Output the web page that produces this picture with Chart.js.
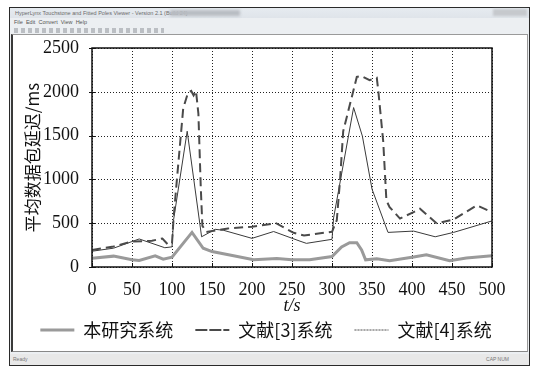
<!DOCTYPE html>
<html>
<head>
<meta charset="utf-8">
<script src="https://cdn.jsdelivr.net/npm/chart.js@4"></script>
<style>
  body { margin: 0; background: #fff; width: 535px; height: 367px; overflow: hidden; font-family: "Liberation Sans", sans-serif; }
  .win { position: absolute; left: 9px; top: 7px; width: 519px; height: 357px; border: 1px solid #2a2a2a; background: #eceff2; }
  .title { position: absolute; left: 0; top: 0; right: 0; height: 10px; background: linear-gradient(#e6ebf0, #dfe4ea); font-size: 5.5px; color: #6a6a6a; line-height: 10px; padding-left: 5px; }
  .title .blur { position: absolute; left: 160px; top: 2px; width: 70px; height: 6px; background: #b8bcc2; filter: blur(1.5px); }
  .title .btn { position: absolute; right: 2px; top: 1px; width: 34px; height: 7px; background: #c6c9cd; filter: blur(1px); }
  .menu { position: absolute; left: 0; top: 10px; right: 0; height: 9px; font-size: 5.5px; color: #555; line-height: 9px; padding-left: 4px; }
  .tool { position: absolute; left: 4px; top: 20px; width: 150px; height: 5px; background: repeating-linear-gradient(90deg, #9a9ea4 0 4px, transparent 4px 7px); opacity: 0.6; }
  .client { position: absolute; left: 1px; top: 26px; width: 514px; height: 316px; background: #fff; border-left: 2px solid #3a3a3a; border-top: 1px solid #9a9a9a; border-right: 1px solid #9a9a9a; border-bottom: 1px solid #888; }
  .status { position: absolute; left: 0; right: 0; bottom: 0; height: 11px; background: #e8e8e8; font-size: 5px; color: #777; line-height: 11px; }
  .status .l { position: absolute; left: 3px; }
  .status .r { position: absolute; right: 20px; }
  canvas { position: absolute; left: 0; top: 0; }
</style>
</head>
<body>
<div class="win">
  <div class="title">HyperLynx Touchstone and Fitted Poles Viewer - Version 2.1 (Build 24)<div class="blur"></div><div class="btn"></div></div>
  <div class="menu">File&nbsp;&nbsp;Edit&nbsp;&nbsp;Convert&nbsp;&nbsp;View&nbsp;&nbsp;Help</div>
  <div class="tool"></div>
  <div class="client"></div>
  <div class="status"><span class="l">Ready</span><span class="r">CAP NUM</span></div>
</div>
<canvas id="chart" width="535" height="367"></canvas>
<script>
// 本研究系统
const tOurs = [0, 27, 50, 59, 79, 89, 100, 125, 139, 150, 177, 202, 231, 250, 272, 300, 312, 322, 331, 337, 342, 356, 372, 402, 418, 447, 468, 500];
const ours = [100, 124, 82, 75, 128, 90, 113, 395, 214, 176, 128, 82, 97, 82, 82, 120, 230, 278, 278, 195, 82, 94, 71, 113, 139, 71, 102, 128];

// 文献[3]系统
const tRef3 = [0, 27, 50, 75, 88, 95, 100, 102, 106, 114, 120, 124, 127, 130, 133, 136, 138, 143, 170, 200, 230, 252, 265, 298, 300, 306, 310, 314, 325, 331, 337, 347, 356, 358, 364, 368, 372, 385, 402, 410, 431, 452, 481, 500];
const ref3 = [195, 235, 290, 300, 325, 255, 270, 560, 985, 1810, 1990, 2010, 1960, 2010, 1750, 900, 470, 400, 440, 460, 500, 390, 360, 400, 402, 534, 985, 1550, 1950, 2170, 2180, 2133, 2160, 2000, 1436, 760, 684, 553, 627, 666, 497, 542, 703, 627];

// 文献[4]系统
const tRef4 = [0, 27, 59, 91, 100, 102, 119, 137, 154, 164, 200, 227, 260, 268, 300, 302, 327, 338, 350, 370, 402, 429, 452, 500];
const ref4 = [180, 215, 320, 220, 230, 540, 1550, 345, 430, 420, 327, 405, 295, 270, 316, 560, 1820, 1493, 890, 395, 410, 345, 395, 526];

const seriesNames = ["本研究系统", "文献[3]系统", "文献[4]系统"];
const xStep = 50;
const yStep = 500;

const toXY = (ts, vs) => ts.map((t, i) => ({ x: t, y: vs[i] }));

// dotted grid, small outward ticks and the box round the plot
const gridBox = {
  id: "gridBox",
  beforeDatasetsDraw(chart) {
    const a = chart.chartArea;
    const c = chart.ctx;
    const sx = chart.scales.x, sy = chart.scales.y;
    c.save();
    c.lineWidth = 1;
    c.strokeStyle = "#222";
    c.setLineDash([1, 2]);
    sx.ticks.forEach(t => {
      const px = Math.round(sx.getPixelForValue(t.value)) + 0.5;
      c.beginPath(); c.moveTo(px, a.top); c.lineTo(px, a.bottom); c.stroke();
    });
    sy.ticks.forEach(t => {
      const py = Math.round(sy.getPixelForValue(t.value)) + 0.5;
      c.beginPath(); c.moveTo(a.left, py); c.lineTo(a.right, py); c.stroke();
    });
    c.setLineDash([]);
    c.strokeStyle = "#111";
    sx.ticks.forEach(t => {
      const px = Math.round(sx.getPixelForValue(t.value)) + 0.5;
      c.beginPath(); c.moveTo(px, a.bottom); c.lineTo(px, a.bottom - 4); c.stroke();
    });
    sy.ticks.forEach(t => {
      const py = Math.round(sy.getPixelForValue(t.value)) + 0.5;
      c.beginPath(); c.moveTo(a.left - 3, py); c.lineTo(a.left + 3, py); c.stroke();
    });
    c.restore();
  },
  afterDatasetsDraw(chart) {
    const a = chart.chartArea;
    const c = chart.ctx;
    c.save();
    c.strokeStyle = "#111";
    c.lineWidth = 1.5;
    c.strokeRect(a.left, a.top, a.right - a.left, a.bottom - a.top);
    c.restore();
  }
};

const serif = "'Liberation Serif', 'DejaVu Serif', serif";
const cjk = "'Noto Sans CJK SC', 'Liberation Serif', sans-serif";
const legendPad = 22;

new Chart(document.getElementById("chart").getContext("2d"), {
  type: "line",
  data: {
    datasets: [
      { label: seriesNames[0], data: toXY(tOurs, ours), borderColor: "#9a9a9a", backgroundColor: "#9a9a9a", borderWidth: 3 },
      { label: seriesNames[1], data: toXY(tRef3, ref3), borderColor: "#4a4a4a", backgroundColor: "#4a4a4a", borderWidth: 2, borderDash: [9, 5] },
      { label: seriesNames[2], data: toXY(tRef4, ref4), borderColor: "#3a3a3a", backgroundColor: "#3a3a3a", borderWidth: 1 }
    ]
  },
  options: {
    animation: false,
    responsive: false,
    devicePixelRatio: 1,
    elements: { point: { radius: 0 }, line: { tension: 0 } },
    layout: { padding: { left: 14, right: 17, top: 48, bottom: 18 } },
    scales: {
      x: {
        type: "linear", min: 0, max: 500,
        afterFit(s) { s.height = 54 - legendPad; },
        grid: { display: false },
        border: { display: false },
        ticks: { stepSize: xStep, font: { family: serif, size: 18 }, color: "#111", padding: 4, maxRotation: 0, callback: v => String(v) },
        title: { display: true, text: "t/s", font: { family: serif, size: 18, style: "italic" }, color: "#111", padding: { top: 0, bottom: 4 - legendPad } }
      },
      y: {
        min: 0, max: 2500,
        afterFit(s) { s.width = 78; },
        grid: { display: false },
        border: { display: false },
        ticks: { stepSize: yStep, font: { family: serif, size: 18 }, color: "#111", padding: 5, callback: v => String(v) },
        title: { display: true, text: "平均数据包延迟/ms", font: { family: cjk, size: 17 }, color: "#111", padding: { top: 8, bottom: 0 } }
      },
      y2: {
        position: "right", display: true,
        grid: { display: false }, border: { display: false }, ticks: { display: false },
        afterFit(s) { s.width = 26; }
      }
    },
    plugins: {
      legend: {
        position: "bottom",
        labels: {
          font: { family: cjk, size: 18 }, color: "#111",
          boxWidth: 34, boxHeight: 0, padding: legendPad,
          generateLabels(chart) {
            const items = Chart.defaults.plugins.legend.labels.generateLabels(chart);
            items[2].lineDash = [1, 2];
            return items;
          }
        }
      },
      tooltip: { enabled: false }
    }
  },
  plugins: [gridBox]
});
</script>
</body>
</html>
